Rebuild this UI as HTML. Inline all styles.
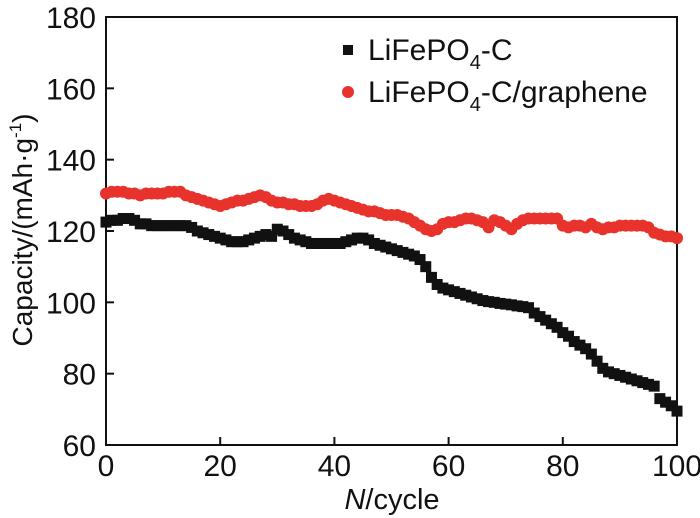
<!DOCTYPE html>
<html><head><meta charset="utf-8"><style>
body{margin:0;background:#fff}
svg{display:block;font-family:"Liberation Sans",Arial,sans-serif}
</style></head><body>
<svg id="chart" width="700" height="518"></svg>
<script>
const cycles=[];for(let i=0;i<=100;i++)cycles.push(i);
const lfpC=[122.5,123,123,123.5,123.5,123,122,122,121.5,121.5,121.5,121.5,121.5,121.5,121.5,121,120,119.5,119,118.5,118,117.5,117,117,117,117.5,118,118.5,119,118.5,120.5,120,119,118,117.5,117,116.5,116.5,116.5,116.5,116.5,116.5,117,117.5,118,118,117.5,116.5,116,115.5,115,114.5,114,113.5,113,112,110,107,105,104,103.5,103,102.5,102,101.5,101,100.5,100.2,100,99.7,99.5,99.3,99,98.8,98.5,97,96,95,94,93,91.5,90.5,89,88,87,85.5,83.5,81.5,80.5,80,79.5,79,78.5,78,77.5,77,76.5,73,72,71,69.5];
const lfpG=[130.5,131,131,131,130.5,130.5,130,130.5,130.5,130.5,130.5,131,131,131,130,129.5,129,128.5,128,127.5,127,127.5,128,128.5,128.5,129,129.5,130,129.5,128.5,128,128,127.5,127.5,127,127,127,127.5,128.5,129,128.5,128,127.5,127,126.5,126,125.5,125.5,125,124.5,124.5,124.5,124,123.5,122.5,121.5,120.5,120,120.5,122,122.5,122.5,123,123.5,123.5,123,122.5,121,123,122.5,121.5,120.5,122,123,123.5,123.5,123.5,123.5,123.5,123.5,121.5,121,121.5,121.5,121,122,121,120.5,121,121,121.5,121.5,121.5,121.5,121.5,121,119.5,119,118.5,118.5,118];
const xTicks=[0,20,40,60,80,100];
const yTicks=[60,80,100,120,140,160,180];
const NS="http://www.w3.org/2000/svg";
const svg=document.getElementById('chart');
const L=106,R=677,T=17,B=445;
const xs=v=>L+(v-0)/100*(R-L);
const ys=v=>B-(v-60)/120*(B-T);
function mk(t,a,p){const e=document.createElementNS(NS,t);for(const k in a)e.setAttribute(k,a[k]);(p||svg).appendChild(e);return e;}
const frame=mk('rect',{x:L,y:T,width:R-L,height:B-T,fill:'none',stroke:'#111','stroke-width':2});


xTicks.forEach(v=>{
 const l=mk('line',{x1:xs(v),x2:xs(v),y1:B,y2:B-8,stroke:'#111','stroke-width':2});
 
 
 const t=mk('text',{x:xs(v),y:B+31,'font-size':30,'text-anchor':'middle',fill:'#111'});t.textContent=v;
 
 
});
yTicks.forEach(v=>{
 const l=mk('line',{x1:L,x2:L+8,y1:ys(v),y2:ys(v),stroke:'#111','stroke-width':2});
 
 
 const t=mk('text',{x:L-10,y:ys(v)+11,'font-size':30,'text-anchor':'end',fill:'#111'});t.textContent=v;
 
 
});
const gB=mk('g',{});


cycles.forEach((c,i)=>{const r=mk('rect',{x:xs(c)-5.5,y:ys(lfpC[i])-5.5,width:11,height:11,fill:'#111'},gB);
 
 });
const gR=mk('g',{});


cycles.forEach((c,i)=>{const r=mk('circle',{cx:xs(c),cy:ys(lfpG[i]),r:6,fill:'#e8332c'},gR);
 
 });
</script>
<svg width="700" height="518" style="position:absolute;left:0;top:0">
<g font-family="Liberation Sans,Arial,sans-serif" font-size="30" fill="#111">
<rect x="343" y="45" width="10" height="10" fill="#111"/>
<text x="368" y="60">LiFePO<tspan font-size="20" dy="9">4</tspan><tspan dy="-9">-C</tspan></text>
<circle cx="348" cy="92" r="6" fill="#e8332c"/>
<text x="368" y="102">LiFePO<tspan font-size="20" dy="9">4</tspan><tspan dy="-9">-C/graphene</tspan></text>
</g>
<text x="392" y="509" text-anchor="middle" font-family="Liberation Sans,Arial,sans-serif" font-size="29" fill="#111"><tspan font-style="italic">N</tspan>/cycle</text>
<text transform="translate(32,230) rotate(-90)" text-anchor="middle" font-family="Liberation Sans,Arial,sans-serif" font-size="28" fill="#111">Capacity/(mAh·g<tspan font-size="17" dy="-11">-1</tspan><tspan dy="11">)</tspan></text>
</svg>
</body></html>
